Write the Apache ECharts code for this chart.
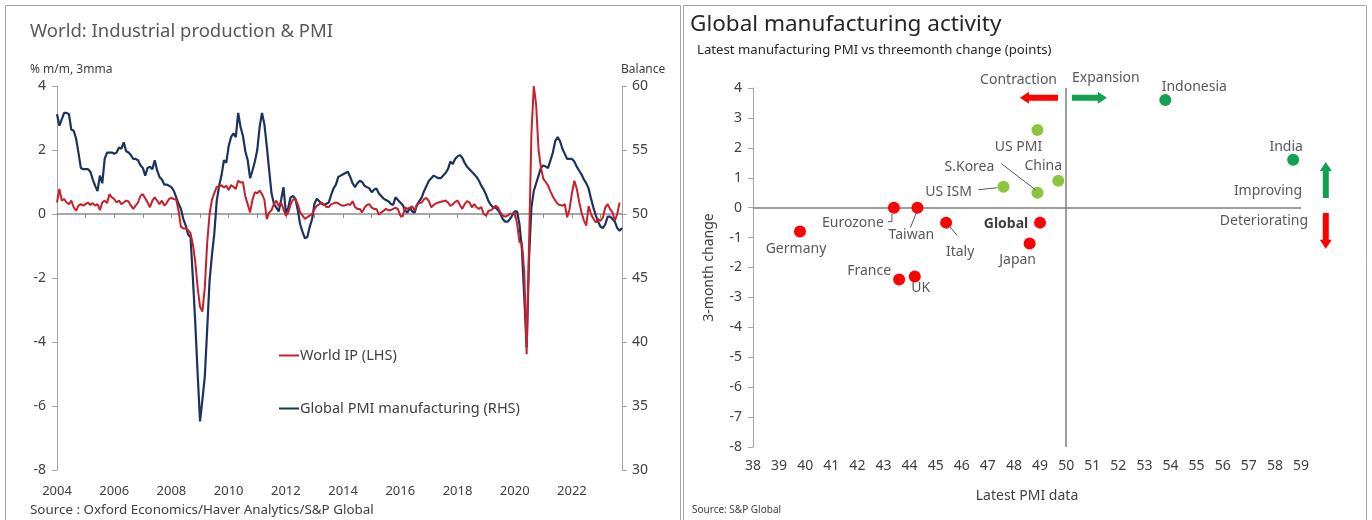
<!DOCTYPE html>
<html>
<head>
<meta charset="utf-8">
<script src="https://cdn.jsdelivr.net/npm/echarts@6/dist/echarts.min.js"></script>
<style>
html,body{margin:0;padding:0;background:#fff;}
#c{width:1372px;height:520px;}
</style>
</head>
<body>
<div id="c"></div>
<script>
// ---------- Left chart: monthly data from Jan 2004 ----------
const startYear = 2004;
const worldIP = [
 0.36,0.78,0.42,0.47,0.36,0.31,0.42,0.21,0.10,0.26,0.31,0.26,
 0.31,0.36,0.28,0.34,0.26,0.31,0.12,0.36,0.42,0.34,0.62,0.52,
 0.47,0.36,0.42,0.31,0.36,0.42,0.39,0.26,0.16,0.26,0.36,0.57,
 0.62,0.49,0.36,0.21,0.42,0.52,0.42,0.31,0.42,0.26,0.34,0.47,
 0.50,0.47,0.45,0.10,-0.40,-0.45,-0.45,-0.50,-0.60,-0.95,-1.50,-2.30,
 -2.90,-3.05,-2.30,-0.90,0.00,0.45,0.65,0.85,0.85,0.90,0.83,0.88,
 0.75,0.90,0.85,0.78,1.04,0.98,1.00,0.55,0.30,0.05,0.45,0.68,
 0.65,0.73,0.62,0.45,-0.16,0.05,0.12,0.31,0.42,0.25,0.36,0.15,
 -0.05,0.05,0.30,0.45,0.47,0.30,0.05,-0.05,-0.15,-0.10,-0.05,0.00,
 0.15,0.26,0.30,0.36,0.30,0.22,0.22,0.30,0.33,0.36,0.33,0.28,
 0.26,0.27,0.31,0.28,0.40,0.22,0.16,0.16,0.05,0.20,0.28,0.31,
 0.20,0.16,0.16,-0.02,0.05,0.10,0.16,0.12,0.12,0.16,0.20,0.15,
 -0.05,-0.08,0.21,0.16,0.20,0.24,0.10,0.30,0.34,0.36,0.47,0.50,
 0.40,0.21,0.28,0.33,0.36,0.38,0.40,0.42,0.36,0.25,0.30,0.38,
 0.42,0.28,0.16,0.31,0.40,0.36,0.21,0.31,0.21,0.16,0.22,0.00,
 -0.05,0.10,0.12,0.18,0.26,0.20,0.05,-0.05,-0.08,-0.05,0.00,0.02,
 0.05,-0.30,-0.88,-0.90,-1.80,-4.38,-1.00,2.50,4.00,3.40,2.00,1.45,
 1.10,1.00,0.89,0.70,0.55,0.42,0.32,0.28,0.26,0.31,-0.10,0.15,
 0.65,1.04,0.80,0.40,0.05,-0.20,-0.36,0.25,0.00,-0.15,-0.26,-0.16,
 -0.22,-0.10,0.21,0.31,0.15,0.05,-0.21,0.00,0.36
];
const globalPMI = [
 57.8,56.9,57.4,57.9,57.9,57.8,56.6,56.5,55.9,54.8,53.6,53.5,
 53.5,53.5,53.3,52.7,52.2,51.8,53.0,52.4,54.3,54.8,54.8,54.8,
 54.7,54.8,55.2,55.1,55.6,54.9,54.8,54.6,54.3,54.3,54.2,53.8,
 53.6,53.0,53.6,53.7,53.5,54.2,53.4,52.9,52.7,52.3,52.3,52.2,
 52.1,51.8,51.3,50.8,50.4,49.6,49.1,48.4,48.2,45.0,41.5,37.5,
 33.8,35.5,37.3,41.0,44.8,46.8,48.5,51.0,52.2,53.0,54.2,54.0,
 55.3,56.0,56.3,56.0,57.9,56.8,56.1,54.9,54.2,52.8,53.4,54.1,
 55.0,56.8,57.9,57.0,55.3,53.4,51.6,50.8,50.5,50.2,51.1,52.1,
 50.1,50.5,51.3,51.4,51.2,50.3,49.2,48.6,48.1,48.2,49.0,49.6,
 50.8,51.2,51.0,50.8,50.7,50.8,50.9,51.5,52.0,52.3,52.9,53.0,
 53.1,53.2,53.3,52.9,52.4,52.1,52.4,52.6,52.5,52.2,52.1,52.0,
 51.7,51.9,52.0,51.6,51.4,51.2,51.1,51.0,50.8,50.7,51.3,51.1,
 50.9,50.7,50.3,50.1,50.5,50.2,50.1,50.7,51.0,51.3,51.8,52.2,
 52.6,52.8,53.0,52.9,52.8,52.8,53.0,53.2,53.5,54.1,53.9,54.3,
 54.5,54.6,54.4,54.0,53.7,53.5,53.3,53.1,52.9,52.6,52.2,51.9,
 51.5,51.0,50.7,50.5,50.5,50.3,50.0,49.6,49.4,49.4,49.6,49.9,
 50.2,50.2,49.2,47.3,43.5,39.6,46.5,50.5,51.8,52.4,53.0,53.6,
 53.8,53.7,53.6,54.2,54.8,55.7,56.0,55.7,55.1,54.7,54.3,54.3,
 54.3,54.1,53.7,53.4,53.1,52.7,52.4,52.0,51.2,50.5,49.9,49.4,
 49.0,48.9,49.2,49.8,49.8,49.6,49.4,48.9,48.7,48.9
];

// ---------- Right chart ----------
const countries = ['Indonesia','India','US PMI','S.Korea','China','US ISM','Eurozone','Taiwan','Italy','Global','Japan','Germany','France','UK'];
const latestPMI = [53.8,58.7,48.9,48.9,49.7,47.6,43.4,44.3,45.4,49.0,48.6,39.8,43.6,44.2];
const change3m  = [3.6,1.6,2.6,0.5,0.9,0.7,0.0,0.0,-0.5,-0.5,-1.2,-0.8,-2.4,-2.3];

// label offsets (pixels, relative to point centre)
const labelOffsets = {
 'Indonesia':[29,-13],'India':[-7,-13],'US PMI':[-19,17],'S.Korea':[-68,-26],'China':[-15,-15],
 'US ISM':[-55,5],'Eurozone':[-41,15],'Taiwan':[-6,27],'Italy':[14,29],'Global':[-34,1],
 'Japan':[-12,16],'Germany':[-4,17],'France':[-30,-8],'UK':[6,12]
};
const leaders = {
 'S.Korea':[[-36,-29],[-2,-3]],
 'US ISM':[[-25,3],[-6,1]],
 'Eurozone':[[-6,14],[-2,14],[-2,6]],
 'Taiwan':[[-7,20],[-1,5]],
 'Italy':[[11,13],[3,3]]
};

const FONT = "'Noto Sans', 'DejaVu Sans', sans-serif";
const RED_LINE = '#c8202c', NAVY = '#1b335f';

function pointColor(pmi, chg){
  if (chg > 0 && pmi > 50) return '#12a150';
  if (chg > 0) return '#8cc63e';
  return '#ff0000';
}

const chart = echarts.init(document.getElementById('c'), null, {renderer:'canvas'});

const scatterData = countries.map((n,i)=>({
  name:n,
  value:[latestPMI[i], change3m[i]],
  itemStyle:{color:pointColor(latestPMI[i], change3m[i]), opacity:1},
  label:{
    show:true, position:'inside', offset:labelOffsets[n],
    formatter:n, color: n==='Global' ? '#404040' : '#595959',
    fontWeight: n==='Global' ? 'bold' : 'normal',
    fontSize:14, fontFamily:FONT
  }
}));

chart.setOption({
  animation:false,
  textStyle:{fontFamily:FONT},
  grid:[
    {left:57, top:86, width:565, height:384, containLabel:false, outerBoundsMode:'none'},
    {left:753, top:88, width:548, height:359, containLabel:false, outerBoundsMode:'none'}
  ],
  legend:{
    left:274, top:343, orient:'vertical', itemGap:38, itemWidth:20, itemHeight:2,
    icon:'rect', selectedMode:false,
    textStyle:{fontSize:14.5, color:'#404040', fontFamily:FONT, padding:[0,0,0,-4]},
    data:['World IP (LHS)','Global PMI manufacturing (RHS)']
  },
  xAxis:[
    {gridIndex:0, type:'value', min:startYear, max:2023.75, interval:1,
     axisLine:{show:true, onZero:true, onZeroAxisIndex:0, lineStyle:{color:'#8c8c8c', width:1.5}},
     axisTick:{show:true, length:4, lineStyle:{color:'#8c8c8c'}},
     axisLabel:{show:false},
     splitLine:{show:false}},
    {gridIndex:1, type:'value', min:38, max:59, interval:1,
     axisLine:{show:false}, axisTick:{show:false},
     axisLabel:{margin:12, color:'#404040', fontSize:14, fontFamily:FONT},
     splitLine:{show:false},
     name:'Latest PMI data', nameLocation:'middle', nameGap:42,
     nameTextStyle:{fontSize:14, color:'#404040', fontFamily:FONT}},
    {gridIndex:0, type:'value', min:startYear, max:2023.75, interval:2, position:'bottom',
     axisLine:{show:false, onZero:false}, axisTick:{show:false},
     axisLabel:{margin:15, color:'#404040', fontSize:13, fontFamily:FONT, showMaxLabel:false,
       formatter:v=> String(v)},
     splitLine:{show:false}}
  ],
  yAxis:[
    {gridIndex:0, type:'value', min:-8, max:4, interval:2, position:'left',
     axisLine:{show:true, lineStyle:{color:'#a6a6a6'}},
     axisTick:{show:true, length:5, lineStyle:{color:'#a6a6a6'}},
     axisLabel:{margin:11, color:'#404040', fontSize:14, fontFamily:FONT},
     splitLine:{show:false}},
    {gridIndex:0, type:'value', min:30, max:60, interval:5, position:'right',
     axisLine:{show:true, lineStyle:{color:'#a6a6a6'}},
     axisTick:{show:true, length:5, lineStyle:{color:'#a6a6a6'}},
     axisLabel:{margin:10, color:'#404040', fontSize:14, fontFamily:FONT},
     splitLine:{show:false}},
    {gridIndex:1, type:'value', min:-8, max:4, interval:1, position:'left',
     axisLine:{show:true, onZero:false, lineStyle:{color:'#a6a6a6'}},
     axisTick:{show:true, length:5, lineStyle:{color:'#a6a6a6'}},
     axisLabel:{margin:11, color:'#404040', fontSize:14, fontFamily:FONT},
     splitLine:{show:false},
     name:'3-month change', nameLocation:'middle', nameGap:37,
     nameTextStyle:{fontSize:14, color:'#404040', fontFamily:FONT}}
  ],
  series:[
    {name:'Global PMI manufacturing (RHS)', type:'line', xAxisIndex:0, yAxisIndex:1,
     data:globalPMI.map((v,i)=>[startYear+i/12, v]), showSymbol:false, symbol:'none',
     lineStyle:{color:NAVY, width:2.2}, itemStyle:{color:NAVY}},
    {name:'World IP (LHS)', type:'line', xAxisIndex:0, yAxisIndex:0,
     data:worldIP.map((v,i)=>[startYear+i/12, v]), showSymbol:false, symbol:'none',
     lineStyle:{color:RED_LINE, width:2}, itemStyle:{color:RED_LINE}},
    {name:'PMI scatter', type:'scatter', xAxisIndex:1, yAxisIndex:2,
     symbolSize:12, data:scatterData, z:5,
     markLine:{silent:true, symbol:['none','none'], label:{show:false},
       lineStyle:{color:'#7f7f7f', width:1.5, type:'solid'},
       data:[{xAxis:50},{yAxis:0}]}}
  ]
});

// ---------- annotations ----------
const g = [];
function txt(text, x, y, size, color, align, weight){
  g.push({type:'text', x:x, y:y, silent:true, z:10,
    style:{text:text, fill:color, font:(weight||'normal')+' '+size+'px '+FONT,
      textAlign:align||'left', textVerticalAlign:'middle', align:align||'left', verticalAlign:'middle'}});
}
// panel borders
g.push({type:'rect', shape:{x:5.5,y:5.5,width:675,height:530}, style:{fill:'none', stroke:'#a6a6a6', lineWidth:1}, silent:true});
g.push({type:'rect', shape:{x:683.5,y:5.5,width:683,height:530}, style:{fill:'none', stroke:'#a6a6a6', lineWidth:1}, silent:true});
// left texts
txt('World: Industrial production & PMI', 30, 32, 18.5, '#595959');
txt('% m/m, 3mma', 30, 70, 12, '#404040');
txt('Balance', 621, 70, 12, '#404040');
txt('Source : Oxford Economics/Haver Analytics/S&P Global', 30, 510, 13.4, '#404040');
// right texts
txt('Global manufacturing activity', 690, 25, 22.5, '#262626');
txt('Latest manufacturing PMI vs threemonth change (points)', 697, 50, 13.2, '#262626');
txt('Source: S&P Global', 692, 510, 10, '#404040');
txt('Contraction', 1057, 80, 14, '#595959', 'right');
txt('Expansion', 1072, 78, 14, '#595959', 'left');
txt('Improving', 1302, 191, 14, '#595959', 'right');
txt('Deteriorating', 1308, 221, 14, '#595959', 'right');

function toPx(p){ return chart.convertToPixel({gridIndex:1}, p); }
function arrow(from, to, color){
  const a = toPx(from), b = toPx(to);
  const dx = b[0]-a[0], dy = b[1]-a[1], L = Math.hypot(dx,dy);
  const ux = dx/L, uy = dy/L, nx = -uy, ny = ux;
  const sw = 3, hw = 6, hl = 9;
  const bx = b[0]-ux*hl, by = b[1]-uy*hl;
  g.push({type:'polygon', silent:true, z:10, shape:{points:[
    [a[0]+nx*sw, a[1]+ny*sw],[bx+nx*sw, by+ny*sw],[bx+nx*hw, by+ny*hw],[b[0],b[1]],
    [bx-nx*hw, by-ny*hw],[bx-nx*sw, by-ny*sw],[a[0]-nx*sw, a[1]-ny*sw]]},
    style:{fill:color}});
}
arrow([49.69,3.67],[48.23,3.67],'#ff0000');
arrow([50.22,3.67],[51.56,3.67],'#12a150');
arrow([59.95,0.32],[59.95,1.53],'#12a150');
arrow([59.95,-0.18],[59.95,-1.37],'#ff0000');

countries.forEach((n,i)=>{
  if (!leaders[n]) return;
  const c = toPx([latestPMI[i], change3m[i]]);
  const pts = leaders[n].map(o=>[c[0]+o[0], c[1]+o[1]]);
  g.push({type:'polyline', silent:true, z:10, shape:{points:pts}, style:{stroke:'#595959', lineWidth:1, fill:'none'}});
});

chart.setOption({graphic:g});
</script>
</body>
</html>
